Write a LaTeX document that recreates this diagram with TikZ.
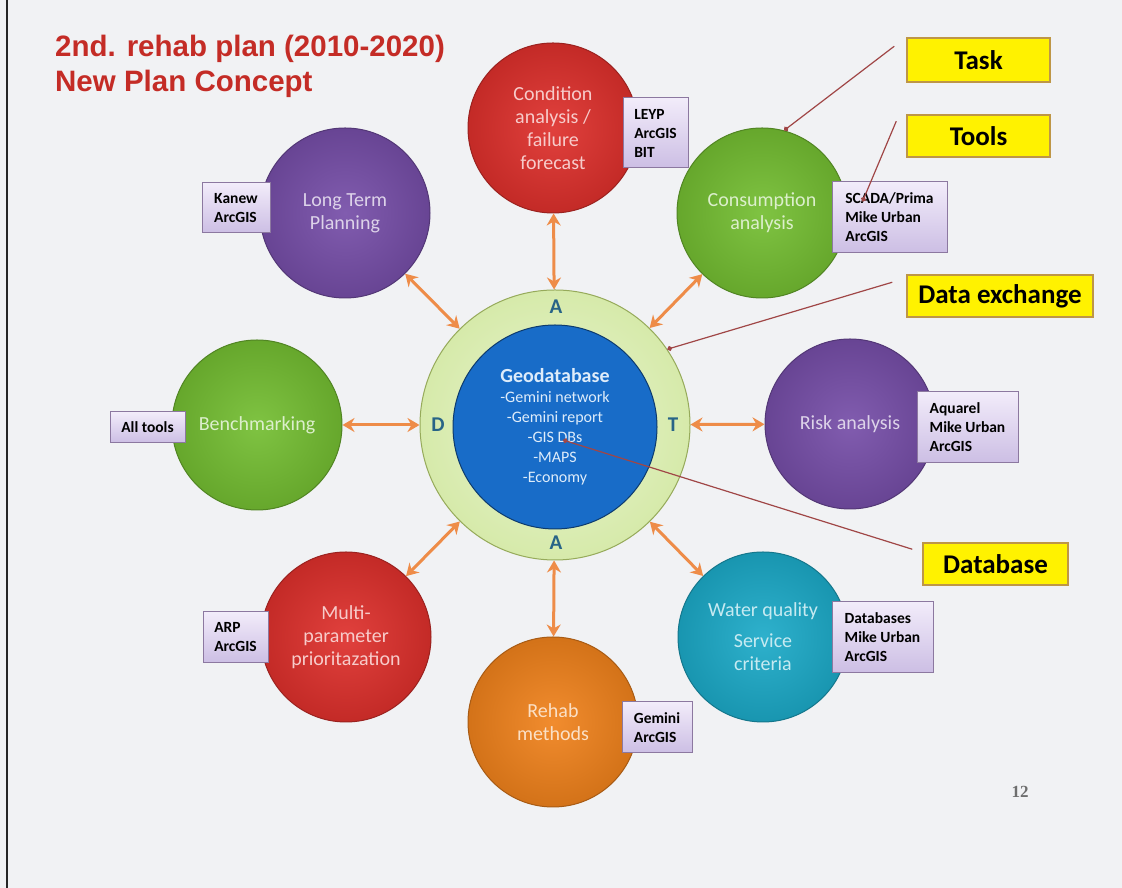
\documentclass[tikz,border=0pt]{standalone}
\usepackage{fontspec}
\setmainfont{Carlito}
\newfontfamily\headfont{Liberation Sans}
\newfontfamily\pagefont{Liberation Serif}
\usepackage{tikz}
\usetikzlibrary{arrows.meta,shapes,positioning,calc}
\definecolor{bgcol}{RGB}{241,242,244}
\definecolor{titlered}{RGB}{196,44,38}
\definecolor{bubred}{RGB}{222,48,44}
\definecolor{bubgreen}{RGB}{116,190,50}
\definecolor{bubpurple}{RGB}{118,78,168}
\definecolor{bubcyan}{RGB}{28,170,200}
\definecolor{buborange}{RGB}{240,130,28}
\definecolor{geoblue}{RGB}{24,108,200}
\definecolor{geotext}{RGB}{222,236,250}
\definecolor{ringgreen}{RGB}{214,234,170}
\definecolor{ringframe}{RGB}{150,170,90}
\definecolor{lettercol}{RGB}{40,100,135}
\definecolor{arrowor}{RGB}{238,140,72}
\definecolor{notered}{RGB}{160,70,70}
\definecolor{tagyellow}{RGB}{255,242,0}
\definecolor{tagframe}{RGB}{190,150,70}
\definecolor{tooltop}{RGB}{242,236,250}
\definecolor{toolbot}{RGB}{204,190,228}
\definecolor{toolframe}{RGB}{140,120,160}
\definecolor{pagegray}{RGB}{110,110,110}

\begin{document}
\begin{tikzpicture}[x=1pt, y=1pt,
    bubble/.style={circle, minimum size=170pt, inner sep=0pt, align=center,
        font=\fontsize{20}{23}\selectfont, line width=1pt, draw=#1!70!black,
        inner color=#1!92!white, outer color=#1!88!black, text=#1!25!white},
    toolbox/.style={draw=toolframe, line width=1pt, top color=tooltop,
        bottom color=toolbot, align=left, inner sep=0pt, text=black,
        font=\bfseries\fontsize{15.5}{19}\selectfont},
    tag/.style={draw=tagframe, line width=1.5pt, fill=tagyellow, inner sep=0pt,
        font=\bfseries\fontsize{27}{30}\selectfont},
    link/.style={<->, >={Stealth[length=12pt,width=14pt]}, line width=3pt, arrowor},
    note/.style={-{Circle[length=5pt]}, line width=1.2pt, notered},
    letter/.style={font=\bfseries\fontsize{21}{21}\selectfont, text=lettercol},
    headline/.style={font=\headfont\bfseries\fontsize{29.5}{34}\selectfont,
        text=titlered, inner sep=0pt, anchor=base west}]
    \useasboundingbox (0,0) rectangle (1122,888);
    \fill[bgcol] (0,0) rectangle (1122,888);
    \draw[line width=1.5pt, black!85] (7,0) -- (7,888);

    % heading
    \node[headline] (title1) at (55,831) {2nd. rehab plan (2010-2020)};
    \node[headline] (title2) at (55,796) {New Plan Concept};

    % tasks round the database
    \node[bubble=bubred] (cond) at (553,760) {Condition\\analysis /\\failure\\forecast};
    \node[bubble=bubgreen] (cons) at (762,675) {Consumption\\analysis};
    \node[bubble=bubpurple] (risk) at (850,464) {Risk analysis};
    \node[bubble=bubcyan] (water) at (763,251) {Water quality\\[8pt]Service\\criteria};
    \node[bubble=buborange] (rehab) at (553,166) {Rehab\\methods};
    \node[bubble=bubred] (multi) at (346,251) {Multi-\\parameter\\prioritazation};
    \node[bubble=bubgreen] (bench) at (257,463) {Benchmarking};
    \node[bubble=bubpurple] (plan) at (345,675) {Long Term\\Planning};

    % data ring
    \node[circle, minimum size=270pt, inner sep=0pt, draw=ringframe, line width=1pt,
        inner color=ringgreen!55!white, outer color=ringgreen] (ring) at (555,463) {};
    \node[circle, minimum size=204pt, inner sep=0pt, draw=geoblue!55!black, line width=1pt,
        fill=geoblue, text=geotext, align=center, font=\fontsize{16}{20}\selectfont]
        (geo) at (555,461) {{\bfseries\fontsize{20}{23}\selectfont Geodatabase}\\-Gemini network\\-Gemini report\\-GIS DBs\\-MAPS\\-Economy};
    \node[letter] (atop) at (556,581) {A};
    \node[letter] (dleft) at (438,463) {D};
    \node[letter] (tright) at (673,463) {T};
    \node[letter] (abot) at (556,345) {A};

    % exchange arrows
    \draw[link] (cond) -- (ring);
    \draw[link] (cons) -- (ring);
    \draw[link] (risk) -- (ring);
    \draw[link] (water) -- (ring);
    \draw[link] (rehab) -- (ring);
    \draw[link] (multi) -- (ring);
    \draw[link] (bench) -- (ring);
    \draw[link] (plan) -- (ring);

    % tools
    \node[toolbox, minimum width=68pt, minimum height=50pt] (kanew) at (236,680) {Kanew\\ArcGIS};
    \node[toolbox, minimum width=65pt, minimum height=70pt] (leyp) at (655.5,755) {LEYP\\ArcGIS\\BIT};
    \node[toolbox, minimum width=115pt, minimum height=71pt] (scada) at (889.5,670.5) {SCADA/Prima\\Mike Urban\\ArcGIS};
    \node[toolbox, minimum width=75pt, minimum height=31pt] (alltools) at (147.5,460.5) {All tools};
    \node[toolbox, minimum width=101pt, minimum height=71pt] (aquarel) at (967.5,460.5) {Aquarel\\Mike Urban\\ArcGIS};
    \node[toolbox, minimum width=65pt, minimum height=51pt] (arp) at (235.5,250.5) {ARP\\ArcGIS};
    \node[toolbox, minimum width=70pt, minimum height=51pt] (gemini) at (657,160.5) {Gemini\\ArcGIS};
    \node[toolbox, minimum width=101pt, minimum height=71pt] (dbtools) at (882.5,250.5) {Databases\\Mike Urban\\ArcGIS};

    % legend tags
    \node[tag, minimum width=143pt, minimum height=44pt] (task) at (978.5,828) {Task};
    \node[tag, minimum width=143pt, minimum height=42pt] (tools) at (978.5,752) {Tools};
    \node[tag, minimum width=186pt, minimum height=42pt] (exchange) at (1000,592) {Data exchange};
    \node[tag, minimum width=145pt, minimum height=42pt] (database) at (995.5,324) {Database};

    % pointers from the tags
    \coordinate (taskpin) at ([xshift=-12pt,yshift=-9pt]task.north west);
    \draw[note] (taskpin) -- (cons.75);
    \coordinate (toolspin) at ([xshift=-10pt,yshift=-7pt]tools.north west);
    \coordinate (scadapin) at ([xshift=31pt,yshift=-20pt]scada.north west);
    \draw[note] (toolspin) -- (scadapin);
    \coordinate (exchangepin) at ([xshift=-14pt,yshift=-8pt]exchange.north west);
    \draw[note] (exchangepin) -- (ring.34);
    \coordinate (databasepin) at ([xshift=-10pt,yshift=-7pt]database.north west);
    \coordinate (gisdot) at (563,448);
    \draw[note] (databasepin) -- (gisdot);

    % page number
    \node[font=\pagefont\bfseries\fontsize{17}{20}\selectfont, text=pagegray] (pagenum) at (1020,96) {12};
\end{tikzpicture}
\end{document}
